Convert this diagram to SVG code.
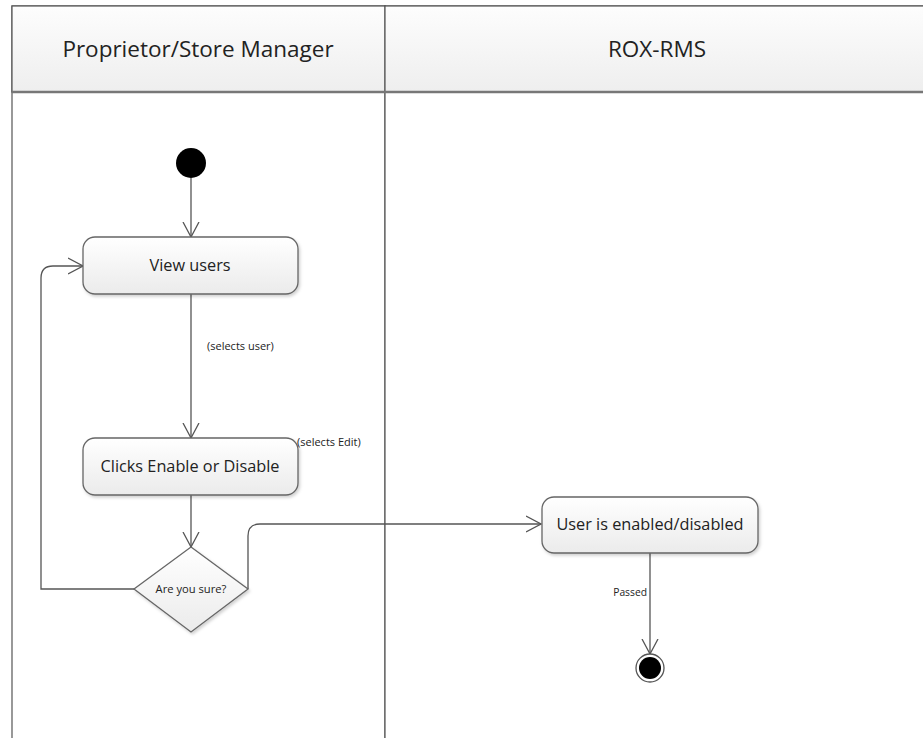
<svg xmlns="http://www.w3.org/2000/svg" width="923" height="738" viewBox="0 0 923 738">
<style>
.lane{fill:#fff;stroke:#555;stroke-width:1.2}
.hdr{fill:url(#hg);stroke:#555;stroke-width:1.2}
.hline{stroke:#777;stroke-width:2.5}
.htxt{font-family:"Open Sans","Liberation Sans",sans-serif;font-size:22.5px;fill:#222;text-anchor:middle}
.box{fill:url(#bg);stroke:#666;stroke-width:1.3;filter:url(#sh)}
.ntxt{font-family:"Open Sans","Liberation Sans",sans-serif;font-size:16.3px;fill:#222;text-anchor:middle}
.stxt{font-family:"Open Sans","Liberation Sans",sans-serif;font-size:11px;fill:#222}
.conn{fill:none;stroke:#555;stroke-width:1.3}
</style>
<defs>
<linearGradient id="hg" x1="0" y1="0" x2="0" y2="1">
<stop offset="0" stop-color="#fdfdfd"/>
<stop offset="1" stop-color="#eeeeee"/>
</linearGradient>
<linearGradient id="bg" x1="0" y1="0" x2="0" y2="1">
<stop offset="0" stop-color="#ffffff"/>
<stop offset="1" stop-color="#ebebeb"/>
</linearGradient>
<filter id="sh" x="-10%" y="-10%" width="130%" height="140%">
<feDropShadow dx="1.5" dy="2" stdDeviation="1.5" flood-color="#000" flood-opacity="0.18"/>
</filter>
<marker id="arr" viewBox="0 0 16 18" refX="15" refY="9" markerWidth="16" markerHeight="18" markerUnits="userSpaceOnUse" orient="auto">
<path d="M0,1 L15,9 L0,17" fill="none" stroke="#555" stroke-width="1.3"/>
</marker>
</defs>

<g id="lanes">
<rect class="lane" x="12" y="6" width="373" height="740"/>
<rect class="lane" x="385" y="6" width="545" height="740"/>
<rect class="hdr" x="12" y="6" width="373" height="86"/>
<rect class="hdr" x="385" y="6" width="545" height="86"/>
<line class="hline" x1="12" y1="92" x2="923" y2="92"/>
<text class="htxt" x="198" y="57">Proprietor/Store Manager</text>
<text class="htxt" x="657" y="57">ROX-RMS</text>
</g>

<g id="connectors">
<path class="conn" d="M191,178 L191,237" marker-end="url(#arr)"/>
<path class="conn" d="M191,294 L191,438" marker-end="url(#arr)"/>
<text class="stxt" x="207" y="350">(selects user)</text>
<text class="stxt" x="297" y="446">(selects Edit)</text>
<path class="conn" d="M191,495 L191,547" marker-end="url(#arr)"/>
<path class="conn" d="M248,589 L248,536 Q248,524 260,524 L541,524" marker-end="url(#arr)"/>
<path class="conn" d="M134,589 L41,589 L41,278 Q41,266 53,266 L83,266" marker-end="url(#arr)"/>
<path class="conn" d="M650,553 L650,654" marker-end="url(#arr)"/>
<text class="stxt" x="647" y="596" text-anchor="end" style="font-size:10.3px">Passed</text>
</g>

<g id="start">
<circle cx="191" cy="163" r="15" fill="#000"/>
</g>

<g id="view-users">
<rect class="box" x="83" y="237" width="215" height="57" rx="12"/>
<text class="ntxt" x="190" y="271">View users</text>
</g>

<g id="clicks-enable">
<rect class="box" x="83" y="438" width="215" height="57" rx="12"/>
<text class="ntxt" x="190" y="472">Clicks Enable or Disable</text>
</g>

<g id="are-you-sure">
<polygon class="box" points="191,547 248,589 191,632 134,589"/>
<text class="stxt" x="191" y="593" text-anchor="middle" style="font-size:11.2px">Are you sure?</text>
</g>

<g id="user-enabled">
<rect class="box" x="542" y="497" width="216" height="56" rx="12"/>
<text class="ntxt" x="650" y="530">User is enabled/disabled</text>
</g>

<g id="end">
<circle cx="650" cy="668" r="14" fill="#fff" stroke="#555" stroke-width="1.3"/>
<circle cx="650" cy="668" r="11" fill="#000"/>
</g>
</svg>
